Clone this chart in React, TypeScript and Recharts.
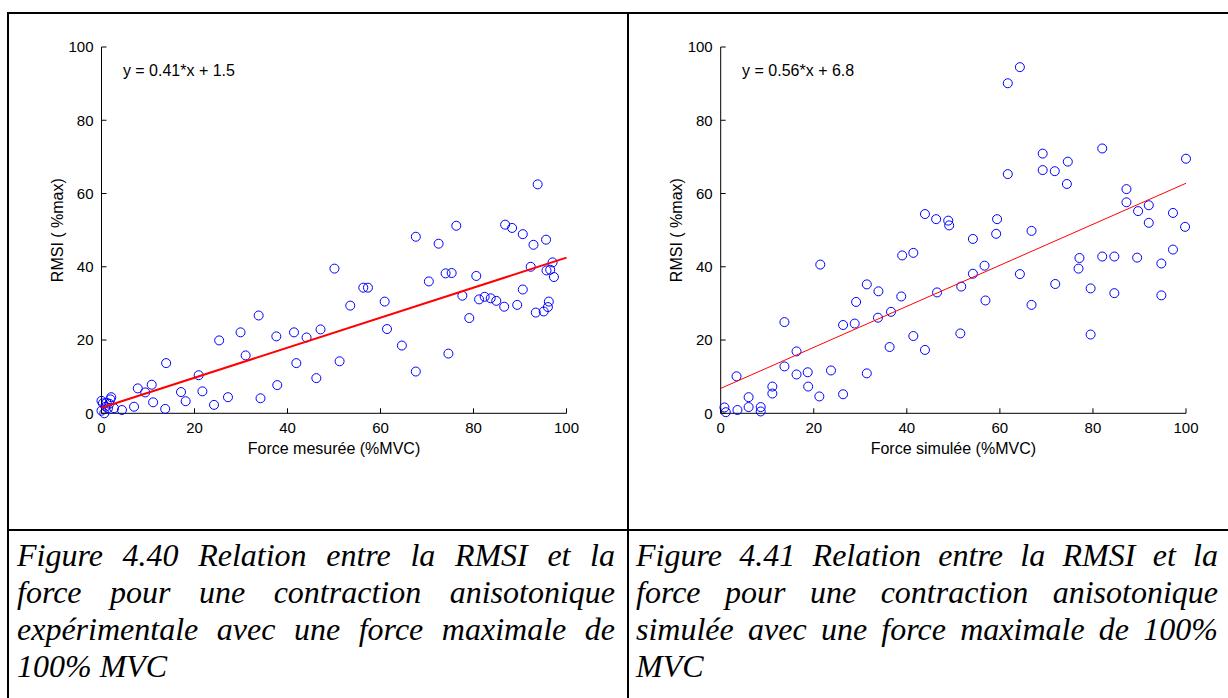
import { ScatterChart, Scatter, XAxis, YAxis, ReferenceDot } from "recharts"

// Figure 4.40 : force mesurée
const mesureeX = [0, 0, 0.6, 0.3, 1.1, 0.9, 1.7, 1.9, 2.1, 1.4, 2.7, 4.4, 7.0, 7.8, 9.4, 10.8, 11.1, 13.7, 13.9, 17.1, 18.1, 20.9, 21.7, 24.2, 25.3, 27.2, 29.9, 31.0, 33.8, 34.2, 37.6, 37.8, 41.4, 41.9, 44.1, 46.2, 47.1, 50.1, 51.2, 53.5, 56.3, 57.3, 60.9, 61.4, 64.6, 67.6, 67.6, 70.4, 72.5, 74.0, 75.3, 74.6, 76.3, 77.6, 79.1, 80.6, 81.2, 82.4, 83.7, 84.9, 86.6, 86.8, 88.3, 89.4, 90.6, 90.6, 92.3, 92.9, 93.8, 93.4, 95.1, 95.6, 95.7, 96.0, 96.2, 96.5, 97.0, 97.3]
const mesureeY = [3.4, 0.7, 0, 2.7, 2.9, 1.8, 2.6, 3.8, 4.4, 1.4, 1.4, 0.9, 1.8, 6.8, 5.7, 7.8, 3.0, 1.2, 13.7, 5.8, 3.3, 10.4, 6.0, 2.3, 19.9, 4.4, 22.1, 15.8, 26.7, 4.1, 21.0, 7.7, 22.1, 13.7, 20.7, 9.6, 22.9, 39.5, 14.2, 29.4, 34.3, 34.3, 30.5, 23.0, 18.5, 48.2, 11.4, 36.0, 46.3, 38.2, 38.3, 16.3, 51.2, 32.1, 26.0, 37.5, 31.1, 31.8, 31.4, 30.7, 29.1, 51.5, 50.6, 29.6, 48.9, 33.8, 40.0, 46.0, 62.5, 27.5, 27.8, 47.4, 39.0, 29.0, 30.5, 39.2, 41.2, 37.2]
const mesureeFitX = [0, 100]
const mesureeFitY = [1.5, 42.5]

// Figure 4.41 : force simulée
const simuleeX = [0.8, 1.1, 3.6, 3.4, 6.0, 6.0, 8.6, 8.6, 11.1, 11.1, 13.7, 13.7, 16.3, 16.3, 18.7, 18.8, 21.2, 21.4, 23.7, 26.3, 26.3, 28.8, 29.1, 31.4, 31.4, 33.8, 33.9, 36.3, 36.6, 38.8, 39.0, 41.4, 41.4, 43.9, 43.9, 46.3, 46.5, 48.9, 49.1, 51.7, 51.5, 54.2, 54.2, 56.7, 56.9, 59.2, 59.4, 61.7, 61.7, 64.3, 64.3, 66.8, 66.8, 69.2, 69.2, 71.8, 71.9, 74.4, 74.6, 76.9, 77.1, 79.5, 79.5, 82.0, 82.0, 84.6, 84.6, 87.2, 87.2, 89.5, 89.7, 92.0, 92.0, 94.7, 94.7, 97.2, 97.2, 99.8, 100]
const simuleeY = [1.6, 0.3, 0.9, 10.1, 4.4, 1.7, 1.7, 0.5, 7.3, 5.4, 24.9, 12.8, 16.9, 10.6, 11.2, 7.3, 4.6, 40.6, 11.7, 24.1, 5.2, 24.5, 30.4, 35.2, 10.9, 26.1, 33.3, 18.1, 27.7, 31.9, 43.1, 43.8, 21.1, 54.4, 17.3, 53.0, 33.0, 52.6, 51.3, 34.6, 21.8, 47.6, 38.1, 40.3, 30.8, 49.0, 53.0, 90.1, 65.3, 94.5, 38.0, 49.8, 29.6, 70.9, 66.4, 66.1, 35.3, 62.6, 68.7, 39.5, 42.4, 34.1, 21.5, 72.3, 42.8, 42.8, 32.8, 61.2, 57.6, 42.5, 55.2, 56.8, 52.0, 40.9, 32.2, 54.7, 44.7, 50.9, 69.5]
const simuleeFitX = [0, 100]
const simuleeFitY = [6.8, 62.8]

const axisTicks = [0, 20, 40, 60, 80, 100]

const captionLeft = [
  "Figure 4.40 Relation entre la RMSI et la",
  "force pour une contraction anisotonique",
  "expérimentale avec une force maximale de",
  "100% MVC",
]
const captionRight = [
  "Figure 4.41 Relation entre la RMSI et la",
  "force pour une contraction anisotonique",
  "simulée avec une force maximale de 100%",
  "MVC",
]

const zip = (xs: number[], ys: number[]) => xs.map((x, i) => ({ x, y: ys[i] }))

const FONT = "'Liberation Sans', Arial, sans-serif"

const XTick = ({ x, y, payload }: any) => (
  <g>
    <line x1={x} x2={x} y1={y} y2={y - 5} stroke="#000" />
    <text x={x} y={y + 8} dy="0.75em" textAnchor="middle" fontSize={15} fontFamily={FONT} fill="#000">
      {payload.value}
    </text>
  </g>
)

const YTick = ({ x, y, payload }: any) => (
  <g>
    <line x1={x} x2={x + 5} y1={y} y2={y} stroke="#000" />
    <text x={x - 8} y={y} dy="0.36em" textAnchor="end" fontSize={15} fontFamily={FONT} fill="#000">
      {payload.value}
    </text>
  </g>
)

const circle = (p: any) => (
  <circle cx={p.cx} cy={p.cy} r={4.5} fill="none" stroke="#0000ff" strokeWidth={1} />
)
const nothing = () => <g />

interface PanelProps {
  points: { x: number; y: number }[]
  fit: { x: number; y: number }[]
  fitWidth: number
  xLabel: string
  equation: string
  width: number
  yAxisWidth: number
  right: number
}

function Panel({ points, fit, fitWidth, xLabel, equation, width, yAxisWidth, right }: PanelProps) {
  return (
    <ScatterChart width={width} height={530} margin={{ top: 47, right, bottom: 76.7, left: 0 }}>
      <XAxis
        type="number"
        dataKey="x"
        domain={[0, 100]}
        ticks={axisTicks}
        height={40}
        axisLine={{ stroke: "#000" }}
        tickLine={false}
        tickSize={0}
        tickMargin={0}
        tick={<XTick />}
        label={{ value: xLabel, position: "insideTop", offset: 29, fill: "#000", fontSize: 16, fontFamily: FONT }}
      />
      <YAxis
        type="number"
        dataKey="y"
        domain={[0, 100]}
        ticks={axisTicks}
        width={yAxisWidth}
        axisLine={{ stroke: "#000" }}
        tickLine={false}
        tickSize={0}
        tickMargin={0}
        tick={<YTick />}
        label={{
          value: "RMSI ( %max)",
          angle: -90,
          position: "insideLeft",
          offset: yAxisWidth - 44,
          fill: "#000",
          fontSize: 16,
          fontFamily: FONT,
          style: { textAnchor: "middle" },
        }}
      />
      <ReferenceDot
        x={4.6}
        y={93.7}
        r={0}
        fill="none"
        stroke="none"
        label={{ value: equation, position: "right", offset: 0, fill: "#000", fontSize: 16, fontFamily: FONT }}
      />
      <Scatter data={points} shape={circle} isAnimationActive={false} />
      <Scatter
        data={fit}
        shape={nothing}
        line={{ stroke: "#ff0000", strokeWidth: fitWidth }}
        isAnimationActive={false}
      />
    </ScatterChart>
  )
}

const border = "2px solid #000"

function Caption({ lines, left, width }: { lines: string[]; left: number; width: number }) {
  return (
    <div
      style={{
        position: "absolute",
        left,
        top: 537,
        width,
        fontFamily: "'Liberation Serif', 'Times New Roman', serif",
        fontStyle: "italic",
        fontSize: 32,
        lineHeight: "37px",
        color: "#000",
      }}
    >
      {lines.map((line, i) => (
        <div
          key={i}
          style={{
            textAlign: "justify",
            textAlignLast: i === lines.length - 1 ? "left" : "justify",
            whiteSpace: "nowrap",
          }}
        >
          {line}
        </div>
      ))}
    </div>
  )
}

export default function App() {
  return (
    <div style={{ position: "absolute", left: 0, top: 0, width: 1228, height: 698, background: "#fff", overflow: "hidden" }}>
      <div style={{ position: "absolute", left: 0, top: 0 }}>
        <Panel
          points={zip(mesureeX, mesureeY)}
          fit={zip(mesureeFitX, mesureeFitY)}
          fitWidth={2}
          xLabel="Force mesurée (%MVC)"
          equation="y = 0.41*x + 1.5"
          width={628}
          yAxisWidth={101.5}
          right={61.5}
        />
      </div>
      <div style={{ position: "absolute", left: 628, top: 0 }}>
        <Panel
          points={zip(simuleeX, simuleeY)}
          fit={zip(simuleeFitX, simuleeFitY)}
          fitWidth={1}
          xLabel="Force simulée (%MVC)"
          equation="y = 0.56*x + 6.8"
          width={600}
          yAxisWidth={92.7}
          right={42}
        />
      </div>
      <div style={{ position: "absolute", left: 7, top: 12, width: 1240, height: 720, borderTop: border, borderLeft: border }} />
      <div style={{ position: "absolute", left: 627, top: 12, width: 0, height: 720, borderLeft: border }} />
      <div style={{ position: "absolute", left: 7, top: 529, width: 1240, height: 0, borderTop: border }} />
      <Caption lines={captionLeft} left={17} width={598} />
      <Caption lines={captionRight} left={636} width={582} />
    </div>
  )
}
